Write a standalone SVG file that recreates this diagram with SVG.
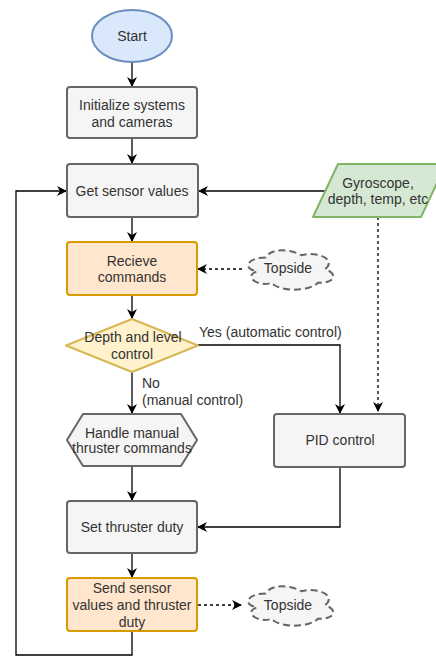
<svg xmlns="http://www.w3.org/2000/svg" width="436" height="659" viewBox="0 0 436 659">
<style>
text{font-family:"Liberation Sans",Arial,sans-serif;font-size:14px;fill:#333;text-anchor:middle}
.l{text-anchor:start}
.gray{fill:#f5f5f5;stroke:#666;stroke-width:2}
.orange{fill:#ffe6cc;stroke:#d79b00;stroke-width:2}
.cloud{fill:#f5f5f5;stroke:#666;stroke-width:2;stroke-dasharray:7 4}
.e{fill:none;stroke:#000;stroke-width:1.3}
.d{stroke-dasharray:3 3}
</style>
<defs>
<marker id="a" viewBox="0 0 10 10" refX="9" refY="5" markerWidth="10" markerHeight="10" markerUnits="userSpaceOnUse" orient="auto">
<path d="M0,0 L10,5 L0,10 L3,5 Z" fill="#000"/>
</marker>
<path id="cl" d="M 23.75 11.5 C 4.75 11.5 0 23 15.2 25.3 C 0 30.36 17.1 41.4 29.45 36.8 C 38 46 66.5 46 76 36.8 C 95 36.8 95 27.6 83.125 23 C 95 13.8 76 4.6 59.375 9.2 C 47.5 2.3 28.5 2.3 23.75 11.5 Z"/>
</defs>
<g id="connectors">
<path class="e" d="M132,62 V86" marker-end="url(#a)"/>
<path class="e" d="M132,138 V163" marker-end="url(#a)"/>
<path class="e" d="M325,191 H199" marker-end="url(#a)"/>
<path class="e" d="M132,631 V655 H16 V191 H66" marker-end="url(#a)"/>
<path class="e" d="M132,217 V241" marker-end="url(#a)"/>
<path class="e d" d="M242,269 H198" marker-end="url(#a)"/>
<path class="e" d="M132,295 V318" marker-end="url(#a)"/>
<path class="e" d="M198,345 H340 V413" marker-end="url(#a)"/>
<path class="e d" d="M378,217 V411" marker-end="url(#a)"/>
<path class="e" d="M132,372 V413" marker-end="url(#a)"/>
<path class="e" d="M132,466 V500" marker-end="url(#a)"/>
<path class="e" d="M340,467 V527 H198" marker-end="url(#a)"/>
<path class="e" d="M132,553 V577" marker-end="url(#a)"/>
<path class="e d" d="M198,605 H241" marker-end="url(#a)"/>
</g>
<g id="start">
<ellipse cx="132" cy="36" rx="40" ry="26" fill="#dae8fc" stroke="#6c8ebf" stroke-width="2"/>
<text x="132" y="40.5">Start</text>
</g>
<g id="init">
<rect class="gray" x="67" y="87" width="130" height="51" rx="3"/>
<text x="132" y="110">Initialize systems</text>
<text x="132" y="127">and cameras</text>
</g>
<g id="get">
<rect class="gray" x="67" y="164" width="131" height="53" rx="3"/>
<text x="132" y="196">Get sensor values</text>
</g>
<g id="gyro">
<polygon points="338,164 446,164 421,217 313,217" fill="#d5e8d4" stroke="#82b366" stroke-width="2" stroke-linejoin="round"/>
<text x="378" y="188">Gyroscope,</text>
<text x="378" y="204">depth, temp, etc</text>
</g>
<g id="recieve">
<rect class="orange" x="67" y="242" width="130" height="53" rx="3"/>
<text x="132" y="266">Recieve</text>
<text x="132" y="282">commands</text>
</g>
<g id="topside1">
<use href="#cl" class="cloud" transform="translate(242,246)"/>
<text x="288" y="273">Topside</text>
</g>
<g id="decision">
<polygon points="132,319 198,345.5 132,372 66,345.5" fill="#fff2cc" stroke="#d6b656" stroke-width="2" stroke-linejoin="round"/>
<text x="133" y="342">Depth and level</text>
<text x="132" y="359">control</text>
</g>
<g id="labels">
<text class="l" x="199" y="336.5">Yes (automatic control)</text>
<text class="l" x="142" y="388">No</text>
<text class="l" x="142" y="405">(manual control)</text>
</g>
<g id="manual">
<polygon class="gray" points="83,414 181,414 197,440 181,466 83,466 67,440" stroke-linejoin="round"/>
<text x="132" y="438">Handle manual</text>
<text x="132" y="453">thruster commands</text>
</g>
<g id="pid">
<rect class="gray" x="274" y="414" width="131" height="53" rx="3"/>
<text x="340" y="445">PID control</text>
</g>
<g id="set">
<rect class="gray" x="67" y="501" width="130" height="52" rx="3"/>
<text x="132" y="532">Set thruster duty</text>
</g>
<g id="send">
<rect class="orange" x="67" y="578" width="130" height="53" rx="3"/>
<text x="132" y="593">Send sensor</text>
<text x="132" y="610">values and thruster</text>
<text x="132" y="627">duty</text>
</g>
<g id="topside2">
<use href="#cl" class="cloud" transform="translate(242,582)"/>
<text x="288" y="610">Topside</text>
</g>
</svg>
